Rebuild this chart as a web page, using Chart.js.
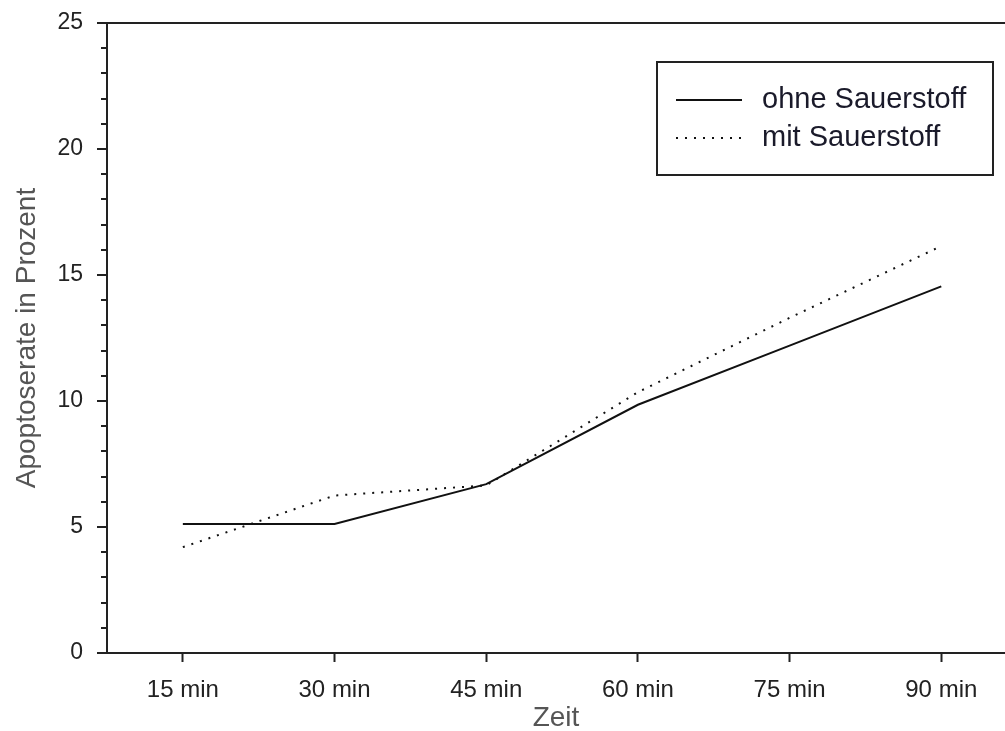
<!DOCTYPE html>
<html>
<head>
<meta charset="utf-8">
<script src="https://cdn.jsdelivr.net/npm/chart.js@4/dist/chart.umd.min.js"></script>
<style>
  html, body { margin: 0; padding: 0; background: #fff; }
  canvas { display: block; }
</style>
</head>
<body>
<canvas id="line-chart" width="1005" height="731"></canvas>
<script>
// data
var categories = ["15 min", "30 min", "45 min", "60 min", "75 min", "90 min"];
var ohneSauerstoff = [5.12, 5.12, 6.7, 9.85, 12.2, 14.55];
var mitSauerstoff = [4.2, 6.25, 6.65, 10.35, 13.3, 16.15];
var yMajorTicks = [0, 5, 10, 15, 20, 25];

function points(values) {
    return values.map(function (v, i) { return { x: i, y: v }; });
}

// outward y ticks (long major, short minor), the top frame line and the boxed legend
var frameAndLegend = {
    id: 'frameAndLegend',
    afterDraw: function (chart) {
        var ctx = chart.ctx;
        var area = chart.chartArea;
        var y = chart.scales.y;
        ctx.save();
        ctx.strokeStyle = '#222';
        ctx.lineWidth = 2;
        y.ticks.forEach(function (t) {
            var py = Math.round(y.getPixelForValue(t.value));
            var len = yMajorTicks.indexOf(t.value) >= 0 ? 10 : 6;
            ctx.beginPath();
            ctx.moveTo(area.left - len, py);
            ctx.lineTo(area.left, py);
            ctx.stroke();
        });
        ctx.beginPath();
        ctx.moveTo(area.left, area.top);
        ctx.lineTo(chart.width, area.top);
        ctx.stroke();

        // legend box
        ctx.strokeRect(657, 62, 336, 113);
        ctx.font = '29px "Liberation Sans", Arial, sans-serif';
        ctx.textBaseline = 'middle';
        ctx.fillStyle = '#1a1a2a';
        chart.data.datasets.forEach(function (ds, i) {
            var ly = 100 + i * 38;
            ctx.beginPath();
            ctx.lineWidth = ds.borderWidth;
            ctx.setLineDash(ds.borderDash || []);
            ctx.strokeStyle = ds.borderColor;
            ctx.moveTo(676, ly);
            ctx.lineTo(742, ly);
            ctx.stroke();
            ctx.setLineDash([]);
            ctx.fillText(ds.label, 762, ly);
        });
        ctx.restore();
    }
};

new Chart(document.getElementById("line-chart"), {
    type: 'line',
    data: {
        datasets: [
            {
                label: "ohne Sauerstoff",
                data: points(ohneSauerstoff),
                borderColor: '#111',
                borderWidth: 2,
                pointRadius: 0,
                tension: 0
            },
            {
                label: "mit Sauerstoff",
                data: points(mitSauerstoff),
                borderColor: '#111',
                borderWidth: 2,
                borderDash: [2, 7],
                pointRadius: 0,
                tension: 0
            }
        ]
    },
    options: {
        responsive: false,
        animation: false,
        devicePixelRatio: 1,
        layout: { padding: { top: 23, right: 0, left: 0, bottom: 0 } },
        plugins: {
            legend: { display: false },
            tooltip: { enabled: false }
        },
        scales: {
            x: {
                type: 'linear',
                min: -0.5,
                max: 5.42,
                afterBuildTicks: function (scale) {
                    scale.ticks = categories.map(function (c, i) { return { value: i }; });
                },
                afterFit: function (scale) {
                    scale.height = 78;
                    scale.paddingLeft = 0;
                    scale.paddingRight = 0;
                },
                ticks: {
                    autoSkip: false,
                    maxRotation: 0,
                    padding: 14,
                    color: '#222',
                    font: { family: '"Liberation Sans", Arial, sans-serif', size: 24 },
                    callback: function (v) { return categories[v]; }
                },
                grid: {
                    drawOnChartArea: false,
                    drawTicks: true,
                    tickLength: 9,
                    tickWidth: 2,
                    tickColor: '#222'
                },
                border: { color: '#222', width: 2 },
                title: {
                    display: true,
                    text: 'Zeit',
                    color: '#555',
                    padding: { top: 0, bottom: -1 },
                    font: { family: '"Liberation Sans", Arial, sans-serif', size: 28, lineHeight: 1 }
                }
            },
            y: {
                min: 0,
                max: 25,
                afterFit: function (scale) {
                    scale.width = 107;
                    scale.paddingTop = 0;
                    scale.paddingBottom = 0;
                },
                ticks: {
                    stepSize: 1,
                    autoSkip: false,
                    padding: 24,
                    color: '#222',
                    font: { family: '"Liberation Sans", Arial, sans-serif', size: 23 },
                    callback: function (v) { return yMajorTicks.indexOf(v) >= 0 ? String(v) : ''; }
                },
                grid: { display: false, drawTicks: false },
                border: { color: '#222', width: 2 },
                title: {
                    display: true,
                    text: 'Apoptoserate in Prozent',
                    color: '#555',
                    padding: { top: 13, bottom: 0 },
                    font: { family: '"Liberation Sans", Arial, sans-serif', size: 28, lineHeight: 1 }
                }
            }
        }
    },
    plugins: [frameAndLegend]
});
</script>
</body>
</html>
